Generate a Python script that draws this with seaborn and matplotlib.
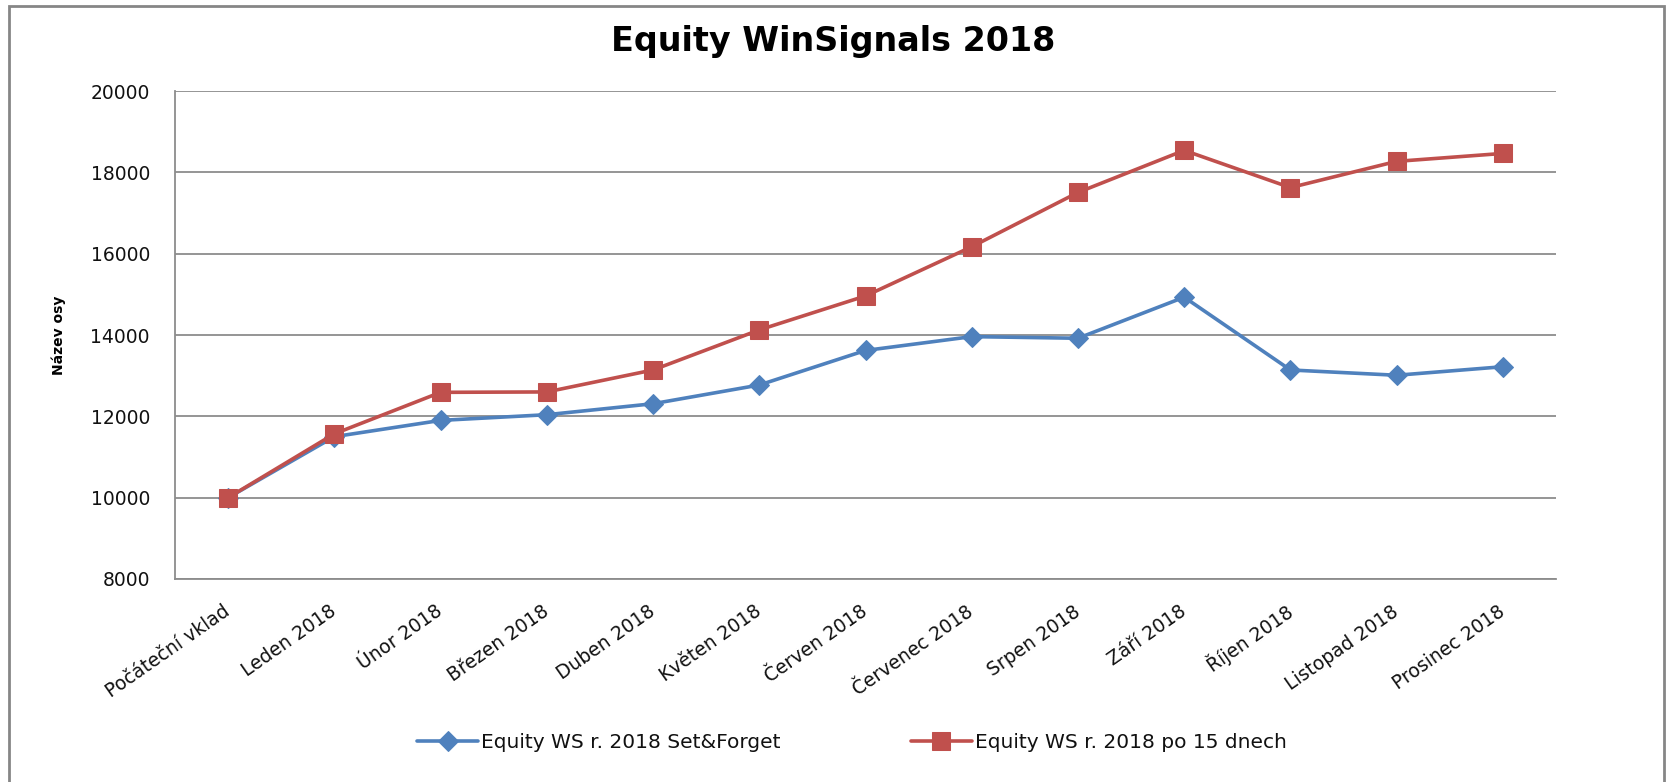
import matplotlib
matplotlib.use("Agg")
import matplotlib.pyplot as plt
import seaborn as sns
import pandas as pd
from matplotlib.patches import Rectangle

categories = ["Počáteční vklad", "Leden 2018", "Únor 2018", "Březen 2018", "Duben 2018",
              "Květen 2018", "Červen 2018", "Červenec 2018", "Srpen 2018", "Září 2018",
              "Říjen 2018", "Listopad 2018", "Prosinec 2018"]
set_forget = [10000, 11500, 11900, 12040, 12310, 12770, 13620, 13960, 13920, 14930, 13140, 13010, 13220]
po_15_dnech = [10000, 11570, 12590, 12600, 13140, 14125, 14960, 16170, 17505, 18540, 17625, 18270, 18465]
series_names = ["Equity WS r. 2018 Set&Forget", "Equity WS r. 2018 po 15 dnech"]
yticks = [8000, 10000, 12000, 14000, 16000, 18000, 20000]
title = "Equity WinSignals 2018"
ylabel = "Název osy"

sns.set_theme(style="white")
plt.rcParams["font.family"] = ["DejaVu Sans"]

W, H = 1667, 782
fig = plt.figure(figsize=(W / 100, H / 100), dpi=100)
ax = fig.add_axes([175 / W, 1 - 579 / H, (1556 - 175) / W, (579 - 91) / H])

df1 = pd.DataFrame({"x": categories, "y": set_forget})
df2 = pd.DataFrame({"x": categories, "y": po_15_dnech})

sns.lineplot(data=df1, x="x", y="y", ax=ax, color="#4F81BD", lw=2.6, marker="D",
             markersize=10, markeredgecolor="#4F81BD", label=series_names[0], sort=False)
sns.lineplot(data=df2, x="x", y="y", ax=ax, color="#C0504D", lw=2.6, marker="s",
             markersize=12.5, markeredgecolor="#C0504D", label=series_names[1], sort=False)

ax.set_xlim(-0.5, len(categories) - 0.5)
ax.set_ylim(8000, 20000)
ax.set_yticks(yticks)
ax.set_yticklabels([str(v) for v in yticks], fontsize=13.5, color="#111111")
ax.set_xticks(range(len(categories)))
ax.set_xticklabels(categories, rotation=35, ha="right", va="center",
                   rotation_mode="anchor", fontsize=13.5, color="#111111")
ax.tick_params(axis="x", length=0, pad=22)
ax.tick_params(axis="y", length=0, pad=18)
ax.grid(axis="y", color="#8C8C8C", lw=1.3)
ax.set_axisbelow(True)
for s in ["top", "right"]:
    ax.spines[s].set_visible(False)
ax.spines["left"].set_color("#8C8C8C")
ax.spines["left"].set_linewidth(1.3)
ax.spines["bottom"].set_color("#8C8C8C")
ax.spines["bottom"].set_linewidth(1.3)
ax.set_xlabel("")
ax.set_ylabel(ylabel, fontsize=10, fontweight="bold", color="black")
ax.yaxis.set_label_coords((66 - 175) / (1556 - 175), 0.5)

fig.suptitle(title, x=0.5, y=1 - 42 / H, va="center", fontsize=24, fontweight="bold",
             color="black")

handles, labels = ax.get_legend_handles_labels()
ax.get_legend().remove()
fig.legend(handles, labels, loc="center", bbox_to_anchor=(852 / W, 1 - 743 / H), ncol=2,
           frameon=False, fontsize=14.5, handlelength=3.0, handletextpad=0.15,
           columnspacing=6.5, labelcolor="#111111")

fig.patches.append(Rectangle((9 / W, -0.05), (1664 - 9) / W, 1.05 - 6 / H,
                             transform=fig.transFigure, fill=False,
                             edgecolor="#868686", lw=2))

fig.savefig("out.png", dpi=100, facecolor="white")
